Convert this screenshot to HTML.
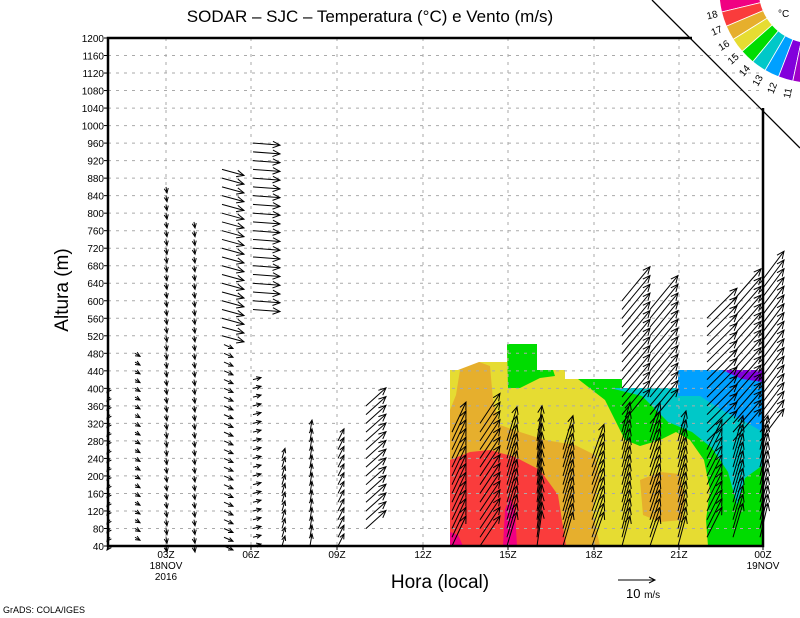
<!DOCTYPE html>
<html><head><meta charset="utf-8"><style>
html,body{margin:0;padding:0;background:#fff;}
svg{display:block;font-family:"Liberation Sans",sans-serif;}
</style></head><body>
<svg id="s" width="800" height="618" viewBox="0 0 800 618" xmlns="http://www.w3.org/2000/svg">
<rect width="800" height="618" fill="#fff"/>
<g id="fill">
<polygon fill="#e6dc32" points="450,370 479,370 479,362 507,362 507,344 537,344 537,370 565,370 565,379 622,379 622,388 678,388 678,370 763,370 763,546 450,546"/>
<polygon fill="#e6af2d" points="450,390 458,370 479,362 490,366 493,400 500,425 520,432 545,440 575,445 595,455 600,480 592,510 600,546 450,546"/>
<polygon fill="#e6dc32" points="450,370 460,370 456,395 450,410"/>
<polygon fill="#fa3c3c" points="450,460 470,452 490,450 515,457 540,470 558,495 566,546 450,546"/>
<polygon fill="#f00082" points="450,532 458,535 463,546 450,546"/>
<polygon fill="#f00082" points="505,510 510,497 515,510 517,546 503,546"/>
<polygon fill="#e6af2d" points="640,480 660,472 680,474 685,500 682,520 660,522 643,515"/>
<polygon fill="#00dc00" points="507,344 537,344 537,370 553,370 555,376 540,378 520,388 508,388"/>
<polygon fill="#00dc00" points="578,379 622,379 622,388 678,388 678,370 763,370 763,546 708,546 706,520 710,490 704,460 690,440 676,432 660,440 640,446 625,440 615,420 605,400"/>
<polygon fill="#00c8c8" points="610,388 678,388 678,370 763,370 763,465 745,478 737,505 728,472 712,448 692,432 668,422 642,396"/>
<polygon fill="#00a0ff" points="678,370 763,370 763,432 742,420 722,410 700,396 678,396"/>
<polygon fill="#8200dc" points="722,370 763,370 763,382 742,379"/>
</g>
<g id="grid" stroke="#aaa" stroke-width="1" stroke-dasharray="3,5"></g>
<g id="arrows" stroke="#000" stroke-width="1" fill="none"></g>
<g id="frame" stroke="#000" stroke-width="2.5" fill="none">
<polyline points="692,38 108,38 108,546 763,546 763,108"/>
</g>
<line x1="652" y1="0" x2="800" y2="148" stroke="#000" stroke-width="1.3"/>
<g id="ticks" stroke="#000" stroke-width="1"></g>
<g id="ylab" font-size="10" text-anchor="end" fill="#000"></g>
<g id="cbar"></g>
<g font-size="10" text-anchor="middle" fill="#000">
<text x="166" y="558">03Z</text><text x="166" y="569">18NOV</text><text x="166" y="580">2016</text>
<text x="251" y="558">06Z</text><text x="337" y="558">09Z</text><text x="423" y="558">12Z</text>
<text x="508" y="558">15Z</text><text x="594" y="558">18Z</text><text x="679" y="558">21Z</text>
<text x="763" y="558">00Z</text><text x="763" y="569">19NOV</text>
</g>
<text x="370" y="22" font-size="17" text-anchor="middle">SODAR – SJC – Temperatura (°C) e Vento (m/s)</text>
<text x="440" y="588" font-size="19" text-anchor="middle">Hora (local)</text>
<text transform="translate(68,290) rotate(-90)" font-size="19" text-anchor="middle">Altura (m)</text>
<line x1="618" y1="580" x2="655" y2="580" stroke="#000"/>
<polyline points="649,577 655,580 649,583" stroke="#000" fill="none"/>
<text x="626" y="598" font-size="13">10 <tspan font-size="10">m/s</tspan></text>
<text x="3" y="613" font-size="9">GrADS: COLA/IGES</text>
</svg>
<script>
var NS="http://www.w3.org/2000/svg";
function el(p,t,a){var e=document.createElementNS(NS,t);for(var k in a)e.setAttribute(k,a[k]);document.getElementById(p).appendChild(e);return e;}
function Y(z){return 546-(z-40)*508/1160;}
for(var z=80;z<=1160;z+=40){el("grid","line",{x1:108,x2:763,y1:Y(z),y2:Y(z)});}
[166,251,337,423,508,594,679].forEach(function(x){el("grid","line",{x1:x,x2:x,y1:38,y2:546});});
for(var z=40;z<=1200;z+=40){var t=el("ylab","text",{x:104,y:Y(z)+4});t.textContent=z;el("ticks","line",{x1:104,x2:108,y1:Y(z),y2:Y(z)});}
[166,251,337,423,508,594,679,763].forEach(function(x){el("ticks","line",{x1:x,x2:x,y1:546,y2:550});});
function arrow(x,y,dx,dy){var L=Math.sqrt(dx*dx+dy*dy);if(L<1)return;var x2=x+dx,y2=y+dy;var h=Math.min(8,Math.max(5,L*0.4)),a=Math.atan2(dy,dx);
var p=(x2-h*Math.cos(a-0.42))+","+(y2-h*Math.sin(a-0.42))+" "+x2+","+y2+" "+(x2-h*Math.cos(a+0.42))+","+(y2-h*Math.sin(a+0.42));
el("arrows","line",{x1:x,y1:y,x2:x2,y2:y2});el("arrows","polyline",{points:p});}
function col(x,z0,z1,f){for(var z=z0;z<=z1;z+=20){var v=f(z);arrow(x+(v[2]||0),Y(z),v[0],v[1]);}}
col(110,40,400,function(z){return [-3,4];});
col(137,60,480,function(z){return [5,3,-2];});
col(166,40,870,function(z){return [1,6];});
col(194,40,790,function(z){return [1,6];});
col(224,40,900,function(z){return z>500?[22,6,-2]:[9,4];});
col(253,40,420,function(z){return [8,-2];});
col(253,580,960,function(z){return [27,2];});
col(282,40,240,function(z){return [3,-10];});
col(310,40,300,function(z){return [2,-12];});
col(338,40,280,function(z){return [6,-12];});
col(366,80,360,function(z){return [20,-18];});
col(452,40,300,function(z){return [14,-30];});
col(480,40,320,function(z){return [20,-30];});
col(507,40,280,function(z){return [10,-34];});
col(537,40,280,function(z){return [5,-35];});
col(563,40,260,function(z){return [10,-34];});
col(592,40,240,function(z){return [12,-34];});
col(622,40,600,function(z){return z>300?[28,-34]:[8,-30];});
col(650,40,580,function(z){return z>300?[28,-34]:[10,-30];});
col(678,40,280,function(z){return [8,-30];});
col(707,60,560,function(z){return z>260?[30,-30]:[15,-30];});
col(733,60,600,function(z){return z>260?[28,-32]:[10,-34];});
col(760,60,640,function(z){return z>260?[24,-32]:[8,-34];});
var cx=812,cy=-10,r0=53,r1=93;
var cols=["#f00082","#fa3c3c","#e6af2d","#e6dc32","#00dc00","#00c8c8","#00a0ff","#8200dc","#a000c8"];
var start=175.5,step=9.2;
function P(r,a){a=a*Math.PI/180;return (cx+r*Math.cos(a)).toFixed(1)+","+(cy+r*Math.sin(a)).toFixed(1);}
for(var i=0;i<9;i++){var a0=start-i*step,a1=a0-step;
el("cbar","path",{d:"M"+P(r1,a0)+" A"+r1+","+r1+" 0 0 0 "+P(r1,a1)+" L"+P(r0,a1)+" A"+r0+","+r0+" 0 0 1 "+P(r0,a0)+" Z",fill:cols[i],stroke:"#fff","stroke-width":"0.8"});}
var labs=["18","17","16","15","14","13","12","11"];
for(var i=0;i<8;i++){var a=start-(i+1)*step;var r=r1+9;var ar=a*Math.PI/180;
var t=el("cbar","text",{x:0,y:0,"font-size":"10","text-anchor":"middle",transform:"translate("+(cx+r*Math.cos(ar)).toFixed(1)+","+(cy+r*Math.sin(ar)+4).toFixed(1)+") rotate("+(a-180)+")"});t.textContent=labs[i];}
var t=el("cbar","text",{x:778,y:17,"font-size":"10"});t.textContent="°C";
</script>
</body></html>
